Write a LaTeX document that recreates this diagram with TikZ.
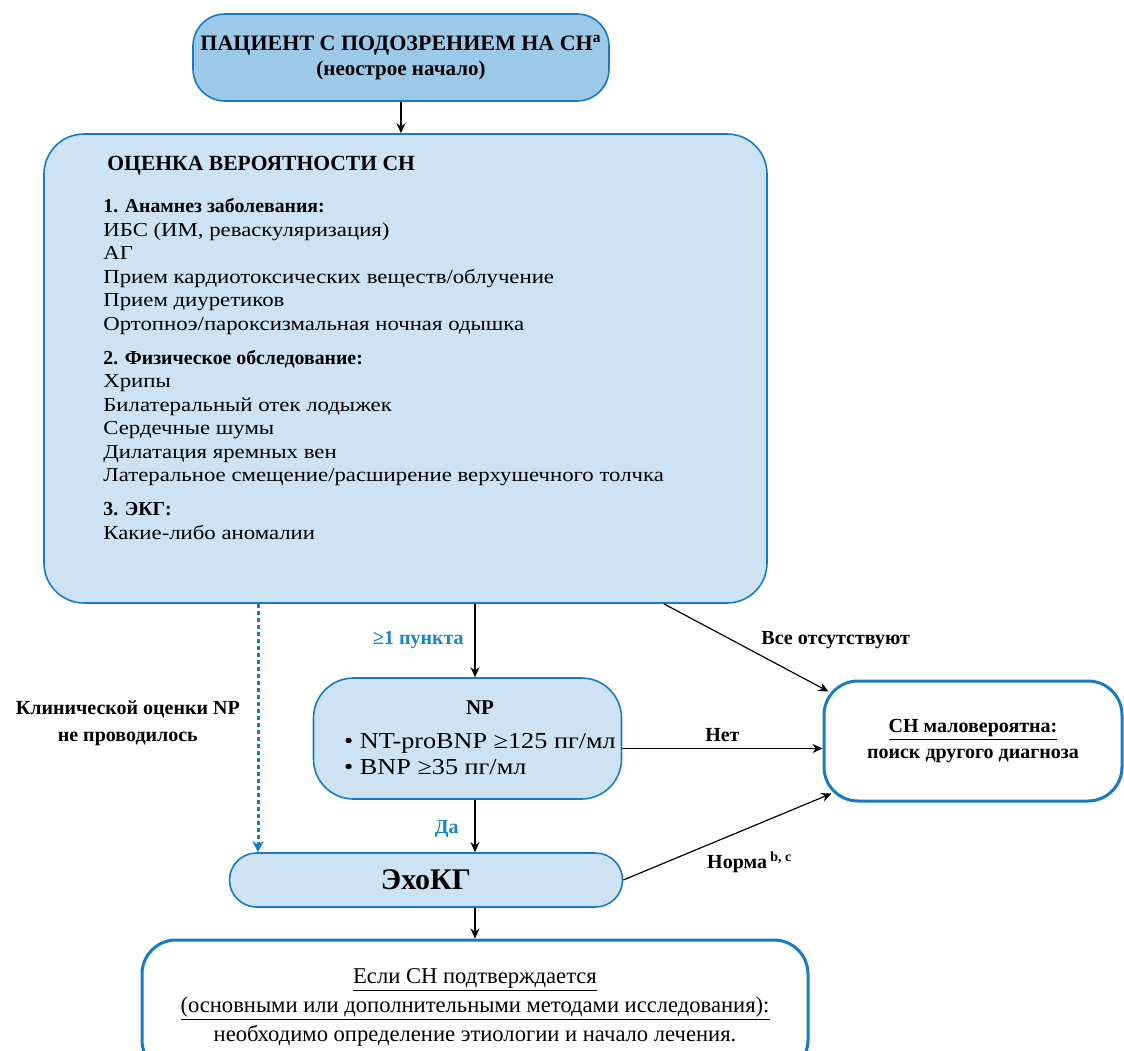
\documentclass[tikz,border=0pt]{standalone}
\usepackage{fontspec}
\setmainfont{Liberation Serif}[UprightFeatures={FakeStretch=1.15}]
\newfontfamily\plainserif{Liberation Serif}
\usetikzlibrary{positioning,arrows.meta,calc}
\definecolor{flowrule}{RGB}{24,122,194}
\definecolor{darkfill}{RGB}{157,201,232}
\definecolor{lightfill}{RGB}{205,227,243}
\definecolor{notetext}{RGB}{22,132,206}
\tikzset{
  darkbox/.style={rectangle,rounded corners=16pt,draw=flowrule,thick,fill=darkfill,align=center},
  lightbox/.style={rectangle,rounded corners=20pt,draw=flowrule,thick,fill=lightfill,align=center},
  endbox/.style={rectangle,rounded corners=17pt,draw=flowrule,line width=1.5pt,fill=white,align=center},
  edge/.style={-{Stealth[length=5pt,width=4.5pt]},semithick},
  skipedge/.style={-{Stealth[length=5.5pt,width=5.5pt]},draw=flowrule,line width=1.5pt,dash pattern=on 2pt off 1.5pt},
  branch/.style={font=\bfseries\fontsize{10}{13.5}\selectfont},
  yesno/.style={branch,text=notetext}
}
\begin{document}
\begin{tikzpicture}[x=0.5pt,y=-0.5pt]
  \useasboundingbox (0,0) rectangle (1124,1050);
  \clip (0,0) rectangle (1124,1050);

  \node[darkbox,minimum width=208pt,minimum height=43.5pt,font=\bfseries\fontsize{11}{12.5}\selectfont] (patient) at (401,57.5)
    {ПАЦИЕНТ С ПОДОЗРЕНИЕМ НА СН\textsuperscript{a}\\{\fontsize{10.5}{12.5}\selectfont (неострое начало)}};

  \node[lightbox,minimum width=361.5pt,minimum height=234.5pt] (asmt) at (405.5,368.5) {};
  \node[anchor=north west,align=left,inner sep=0pt,font=\fontsize{9.9}{11.75}\selectfont] (asmttext) at (103,156)
    {{\bfseries\fontsize{10.8}{11.75}\selectfont\hspace*{2pt}ОЦЕНКА ВЕРОЯТНОСТИ СН}\\[9.25pt]
     {\bfseries 1. Анамнез заболевания:}\\
     ИБС (ИМ, реваскуляризация)\\
     АГ\\
     Прием кардиотоксических веществ/облучение\\
     Прием диуретиков\\
     Ортопноэ/пароксизмальная ночная одышка\\[5.25pt]
     {\bfseries 2. Физическое обследование:}\\
     Хрипы\\
     Билатеральный отек лодыжек\\
     Сердечные шумы\\
     Дилатация яремных вен\\
     Латеральное смещение/расширение верхушечного толчка\\[5.25pt]
     {\bfseries 3. ЭКГ:}\\
     Какие-либо аномалии};

  \node[lightbox,minimum width=154pt,minimum height=60.5pt] (np) at (467.5,738.5) {};
  \node[font=\fontsize{11.4}{13}\selectfont,inner sep=0pt] (nptext) at (480,739)
    {\begin{tabular}{@{}l@{}}\multicolumn{1}{c}{\bfseries\fontsize{10.5}{13}\selectfont NP}\\[4pt]
     • NT-proBNP ≥125 пг/мл\\
     • BNP ≥35 пг/мл\end{tabular}};

  \node[endbox,minimum width=149pt,minimum height=60pt,font=\bfseries\fontsize{10}{13}\selectfont] (unlikely) at (973,741)
    {\underline{СН маловероятна:}\\поиск другого диагноза};

  \node[lightbox,rounded corners=13.5pt,minimum width=196.5pt,minimum height=27pt,font=\bfseries\fontsize{15}{17}\selectfont] (echo) at (426,880) {ЭхоКГ};

  \node[endbox,minimum width=333pt,minimum height=67pt,font=\plainserif\fontsize{11.3}{14.5}\selectfont] (confirm) at (475,1007)
    {\underline{Если СН подтверждается}\\
     \underline{(основными или дополнительными методами исследования):}\\
     необходимо определение этиологии и начало лечения.};

  \coordinate (spine) at (475,0);
  \coordinate (skip) at (258,0);

  \draw[edge] (patient.south) -- (patient.south |- asmt.north);
  \draw[edge] (asmt.south -| spine) -- node[yesno,left=2pt,pos=0.5]{≥1 пункта} (np.north -| spine);
  \draw[edge] ($(asmt.south east)+(-104,0)$) -- node[branch,above right=-4pt and 4pt]{Все отсутствуют} ($(unlikely.north west)+(6,12)$);
  \draw[edge] ($(np.east)+(0,10)$) coordinate (nofrom) -- node[branch,above]{Нет} (nofrom -| unlikely.west);
  \draw[skipedge] (asmt.south -| skip) -- node[branch,left=5pt,pos=0.48,align=center]{Клинической оценки NP\\не проводилось} (echo.north -| skip);
  \draw[edge] (np.south -| spine) -- node[yesno,left=4.5pt,pos=0.55]{Да} (echo.north -| spine);
  \draw[edge] (echo.east) -- node[branch,below=6pt,pos=0.55,xshift=6pt]{Норма\,\textsuperscript{b, c}} ($(unlikely.south west)+(9,-9)$);
  \draw[edge] (echo.south -| spine) -- (confirm.north -| spine);
\end{tikzpicture}
\end{document}
